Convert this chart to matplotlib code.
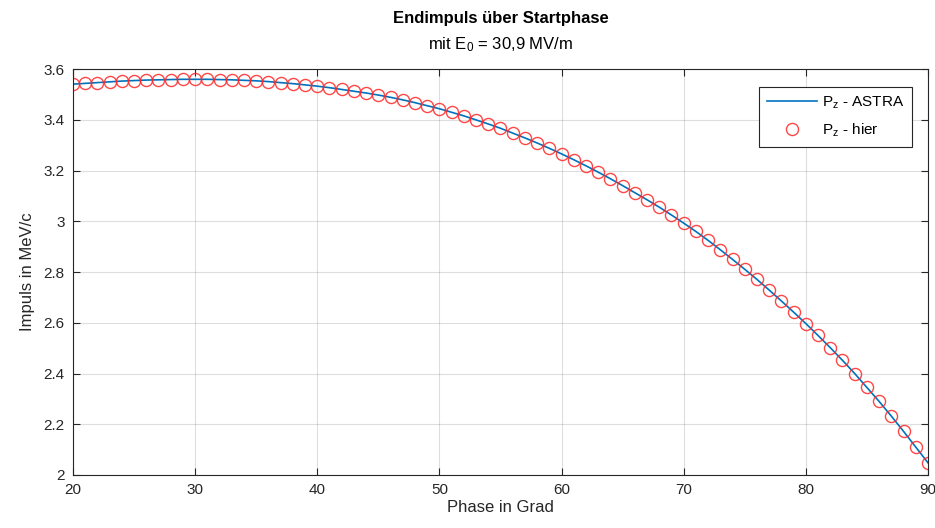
import numpy as np
import matplotlib
matplotlib.use("Agg")
import matplotlib.pyplot as plt

plt.rcParams['font.family'] = ['Liberation Sans', 'DejaVu Sans']
plt.rcParams['mathtext.default'] = 'regular'

# Phase in degrees and end momentum (MeV/c)
phase = list(range(20, 91))
pz_astra = [3.541, 3.544, 3.547, 3.550, 3.553, 3.555, 3.557, 3.558, 3.559, 3.560,
            3.560, 3.560, 3.559, 3.558, 3.556, 3.554, 3.551, 3.547, 3.543, 3.538,
            3.533, 3.527, 3.520, 3.513, 3.506, 3.498, 3.489, 3.479, 3.468, 3.456,
            3.444, 3.430, 3.416, 3.400, 3.384, 3.367, 3.348, 3.329, 3.309, 3.288,
            3.266, 3.243, 3.219, 3.194, 3.168, 3.141, 3.113, 3.085, 3.056, 3.025,
            2.993, 2.960, 2.925, 2.888, 2.850, 2.811, 2.771, 2.729, 2.686, 2.642,
            2.597, 2.550, 2.502, 2.452, 2.400, 2.345, 2.290, 2.232, 2.172, 2.110,
            2.048]
pz_hier = list(pz_astra)

fig = plt.figure(figsize=(9.35, 5.28), dpi=100)
ax = fig.add_axes([0.078, 0.1004, 0.9145, 0.7686])

ax.plot(phase, pz_astra, color=(0, 0.447, 0.741), linewidth=1.2, label='P$_z$ - ASTRA')
ax.plot(phase, pz_hier, linestyle='none', marker='o', markersize=8.7,
        markerfacecolor='none', markeredgecolor=(1, 0.15, 0.15), markeredgewidth=1.0,
        alpha=0.85, label='P$_z$ - hier')

ax.set_xlim(20, 90)
ax.set_ylim(2, 3.6)
ax.set_xticks(np.arange(20, 91, 10))
ax.set_yticks(np.arange(2.0, 3.61, 0.2))
ax.set_yticklabels(['2', '2.2', '2.4', '2.6', '2.8', '3', '3.2', '3.4', '3.6'])

axcol = (0.15, 0.15, 0.15)
ax.set_axisbelow(True)
ax.grid(True, color=(0.15, 0.15, 0.15), alpha=0.15, linewidth=0.8)
ax.tick_params(direction='in', length=5, width=0.8, colors=axcol, labelsize=11,
               top=True, right=True, pad=6)
for s in ax.spines.values():
    s.set_color(axcol)
    s.set_linewidth(0.8)

ax.set_xlabel('Phase in Grad', fontsize=12, color=axcol, labelpad=2)
ax.set_ylabel('Impuls in MeV/c', fontsize=12, color=axcol, labelpad=6)

ax.text(0.5, 1.126, 'Endimpuls über Startphase', transform=ax.transAxes,
        ha='center', va='center', fontsize=12, fontweight='bold', color='black')
ax.text(0.5, 1.06, 'mit E$_0$ = 30,9 MV/m', transform=ax.transAxes,
        ha='center', va='center', fontsize=12, color='black')

leg = ax.legend(loc='upper right', bbox_to_anchor=(0.981, 0.956), borderaxespad=0,
                fontsize=11, fancybox=False, framealpha=1, edgecolor=axcol,
                handlelength=3.3, borderpad=0.5, labelspacing=0.7, handletextpad=0.3)
leg.get_frame().set_linewidth(0.8)

fig.savefig('out.png', dpi=100)
